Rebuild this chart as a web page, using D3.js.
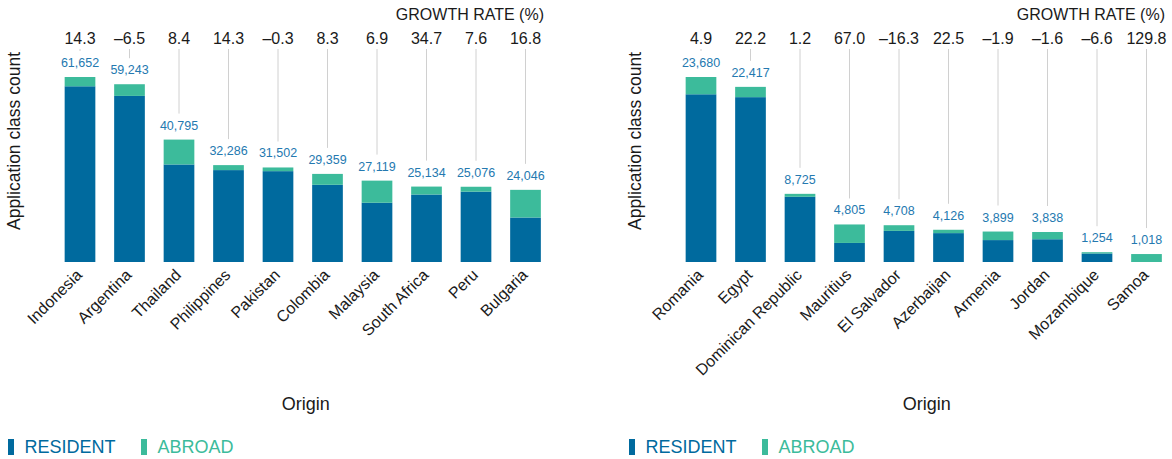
<!DOCTYPE html>
<html><head><meta charset="utf-8">
<script src="https://cdn.jsdelivr.net/npm/d3@7"></script>
<style>
body{margin:0;background:#fff;}
svg{display:block;font-family:"Liberation Sans",Arial,Helvetica,sans-serif;}
</style>
</head><body>
<svg id="chart" width="1172" height="459"></svg>
<script>
// ---- Data ----
const leftCountries = ["Indonesia","Argentina","Thailand","Philippines","Pakistan","Colombia","Malaysia","South Africa","Peru","Bulgaria"];
const leftResident  = [58560, 55350, 32503, 30627, 30275, 25730, 19744, 22488, 23433, 14823];
const leftAbroad    = [3092, 3893, 8292, 1659, 1227, 3629, 7375, 2646, 1643, 9223];
const leftGrowth    = [14.3, -6.5, 8.4, 14.3, -0.3, 8.3, 6.9, 34.7, 7.6, 16.8];

const rightCountries = ["Romania","Egypt","Dominican Republic","Mauritius","El Salvador","Azerbaijan","Armenia","Jordan","Mozambique","Samoa"];
const rightResident  = [21469, 21100, 8346, 2440, 3983, 3697, 2805, 2913, 1090, 0];
const rightAbroad    = [2211, 1317, 379, 2365, 725, 429, 1094, 925, 164, 1018];
const rightGrowth    = [4.9, 22.2, 1.2, 67.0, -16.3, 22.5, -1.9, -1.6, -6.6, 129.8];

const seriesKeys   = ["resident","abroad"];
const seriesLabels = ["RESIDENT","ABROAD"];
const growthTitle  = "GROWTH RATE (%)";
const xTitle = "Origin";
const yTitle = "Application class count";

// ---- Styles ----
const colors = {resident:"#006a9e", abroad:"#3cbb9b"};
const valueColor = "#2479b0";
const locale = d3.formatLocale({decimal:".", thousands:",", grouping:[3], currency:["",""], minus:"\u2013"});
const fmtGrowth = locale.format(".1f");
const fmtCount = locale.format(",");

const svg = d3.select("#chart");

function panel(offsetX, countries, resident, abroad, growth) {
  const g = svg.append("g").attr("transform", `translate(${offsetX},0)`);
  const rows = countries.map((c,i)=>({country:c, resident:resident[i], abroad:abroad[i], growth:growth[i], total:resident[i]+abroad[i]}));
  const x = d3.scaleBand().domain(countries).range([55.25, 550.25]).paddingInner(0.38).paddingOuter(0.19);
  const y = d3.scaleLinear().domain([0, d3.max(rows, d=>d.total)]).range([262, 77]);
  const stacked = d3.stack().keys(seriesKeys)(rows);

  // growth lines
  g.append("g").selectAll("line").data(rows.filter(d => y(d.total) - 26 > 49)).join("line")
    .attr("x1", d=>x(d.country)+x.bandwidth()/2).attr("x2", d=>x(d.country)+x.bandwidth()/2)
    .attr("y1", 49).attr("y2", d=>y(d.total)-26)
    .attr("stroke", "#d0d0d0").attr("stroke-width", 1);

  // bars
  g.append("g").selectAll("g").data(stacked).join("g")
    .attr("fill", s=>colors[s.key])
    .selectAll("rect").data(s=>s).join("rect")
    .attr("x", d=>x(d.data.country)).attr("width", x.bandwidth())
    .attr("y", d=>y(d[1])).attr("height", d=>Math.max(0, y(d[0])-y(d[1])));

  // value labels
  g.append("g").selectAll("text").data(rows).join("text")
    .attr("x", d=>x(d.country)+x.bandwidth()/2).attr("y", d=>y(d.total)-10)
    .attr("text-anchor","middle").attr("font-size","12.5px").attr("fill", valueColor)
    .text(d=>fmtCount(d.total));

  // growth labels
  g.append("g").selectAll("text").data(rows).join("text")
    .attr("x", d=>x(d.country)+x.bandwidth()/2).attr("y", 43.5)
    .attr("text-anchor","middle").attr("font-size","16px").attr("fill","#1a1a1a")
    .text(d=>fmtGrowth(d.growth));
  g.append("text").attr("x", 544).attr("y", 20).attr("text-anchor","end")
    .attr("font-size","16px").attr("fill","#1a1a1a").text(growthTitle);

  // x axis tick labels
  const xAxis = d3.axisBottom(x).tickSize(0).tickPadding(0);
  const ax = g.append("g").attr("transform","translate(0,262)").call(xAxis);
  ax.select(".domain").remove();
  ax.selectAll(".tick text")
    .attr("font-size","16px").attr("font-family","'Liberation Sans',Arial,sans-serif").attr("fill","#1a1a1a")
    .attr("text-anchor","end")
    .attr("transform","translate(-1,10) rotate(-45)")
    .attr("dx","0").attr("dy","0.35em").attr("y",0);

  // axis titles
  g.append("text").attr("x", (x.range()[0]+x.range()[1])/2 + 3).attr("y", 410)
    .attr("text-anchor","middle").attr("font-size","18px").attr("fill","#1a1a1a").text(xTitle);
  g.append("text").attr("transform","translate(14,141) rotate(-90)").attr("dy","0.35em")
    .attr("text-anchor","middle").attr("font-size","17.5px").attr("fill","#1a1a1a").text(yTitle);

  // legend
  const legX = [8, 141];
  const leg = g.append("g").selectAll("g").data(seriesKeys).join("g")
    .attr("transform",(d,i)=>`translate(${legX[i]},0)`);
  leg.append("rect").attr("x",0).attr("y",439).attr("width",6).attr("height",16).attr("fill",d=>colors[d]);
  leg.append("text").attr("x",16.5).attr("y",453).attr("font-size","18px")
    .attr("fill",d=>colors[d]).text((d,i)=>seriesLabels[i]);
}

panel(0, leftCountries, leftResident, leftAbroad, leftGrowth);
panel(621, rightCountries, rightResident, rightAbroad, rightGrowth);
</script>
</body></html>
